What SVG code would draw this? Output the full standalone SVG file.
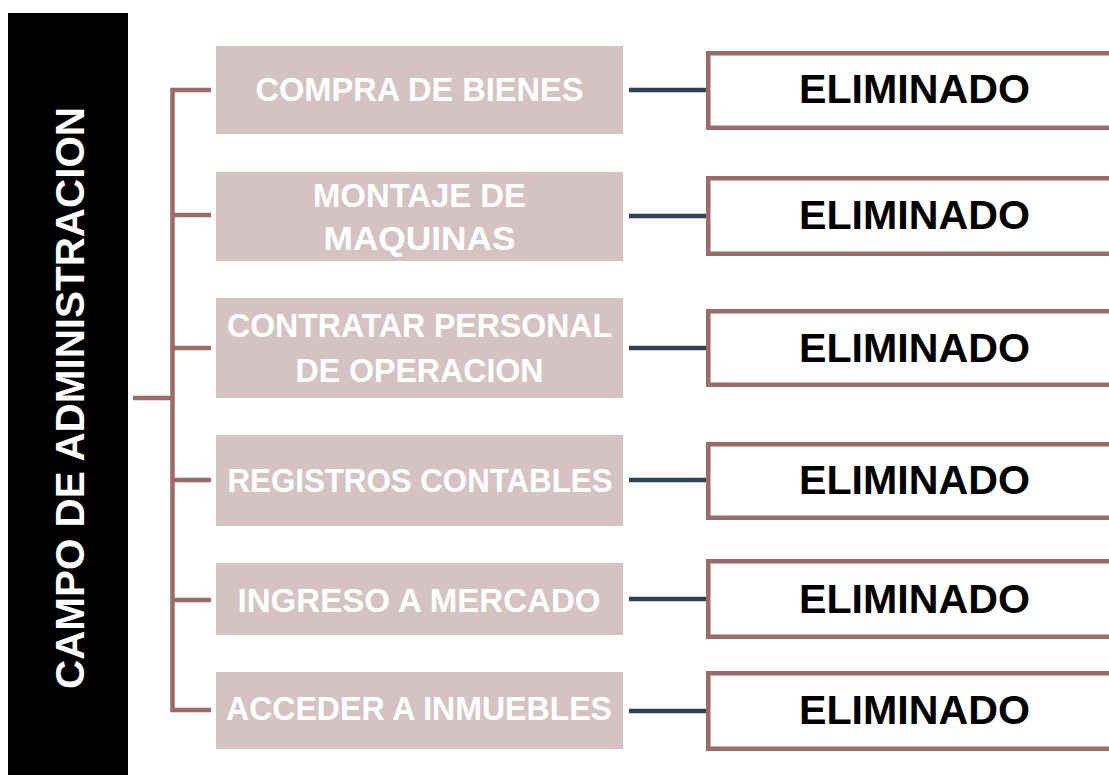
<svg xmlns="http://www.w3.org/2000/svg" width="1109" height="775" viewBox="0 0 1109 775">
<style>
.pk{fill:#d5c3c3}
.pt{font-family:"Liberation Sans",Arial,sans-serif;font-weight:bold;font-size:33px;fill:#ffffff;text-anchor:middle}
.el{fill:#ffffff;stroke:#9c6a67;stroke-width:4.5}
.et{font-family:"Liberation Sans",Arial,sans-serif;font-weight:bold;font-size:41.5px;fill:#000000;text-anchor:middle}
.br{fill:none;stroke:#9c6a67;stroke-width:4.5}
.dk{stroke:#2f4152;stroke-width:4.5}
</style>
<rect width="1109" height="775" fill="#ffffff"/>
<g id="root">
<rect x="8" y="13" width="120" height="765" fill="#000000"/>
<text transform="translate(84,398) rotate(-90)" font-family="Liberation Sans,Arial,sans-serif" font-weight="bold" font-size="41.5" fill="#ffffff" text-anchor="middle" textLength="582" lengthAdjust="spacingAndGlyphs">CAMPO DE ADMINISTRACION</text>
</g>
<g id="connectors">
<path class="br" d="M133 398H172.5M211 90H172.5V710H211M172.5 215H211M172.5 348H211M172.5 480H211M172.5 600H211"/>
<line class="dk" x1="629" y1="90" x2="706" y2="90"/>
<line class="dk" x1="629" y1="216" x2="706" y2="216"/>
<line class="dk" x1="629" y1="348" x2="706" y2="348"/>
<line class="dk" x1="629" y1="480" x2="706" y2="480"/>
<line class="dk" x1="629" y1="599" x2="706" y2="599"/>
<line class="dk" x1="629" y1="711" x2="706" y2="711"/>
</g>
<g id="n1"><rect class="pk" x="216" y="46" width="407" height="88"/><text class="pt" x="419.5" y="101" textLength="328" lengthAdjust="spacingAndGlyphs">COMPRA DE BIENES</text></g>
<g id="n2"><rect class="pk" x="216" y="172" width="407" height="89"/><text class="pt" x="419.5" y="207" textLength="213" lengthAdjust="spacingAndGlyphs">MONTAJE DE</text><text class="pt" x="419.5" y="250" textLength="192" lengthAdjust="spacingAndGlyphs">MAQUINAS</text></g>
<g id="n3"><rect class="pk" x="216" y="298" width="407" height="100"/><text class="pt" x="419.5" y="337" textLength="385" lengthAdjust="spacingAndGlyphs">CONTRATAR PERSONAL</text><text class="pt" x="419.5" y="382" textLength="248" lengthAdjust="spacingAndGlyphs">DE OPERACION</text></g>
<g id="n4"><rect class="pk" x="216" y="435" width="407" height="91"/><text class="pt" x="420" y="492" textLength="385" lengthAdjust="spacingAndGlyphs">REGISTROS CONTABLES</text></g>
<g id="n5"><rect class="pk" x="216" y="563" width="407" height="72"/><text class="pt" x="419" y="612" textLength="363" lengthAdjust="spacingAndGlyphs">INGRESO A MERCADO</text></g>
<g id="n6"><rect class="pk" x="216" y="672" width="407" height="77"/><text class="pt" x="419" y="720" textLength="386" lengthAdjust="spacingAndGlyphs">ACCEDER A INMUEBLES</text></g>
<g id="e1"><rect class="el" x="708.25" y="53.25" width="420" height="74.5"/><text class="et" x="914.5" y="103" textLength="231" lengthAdjust="spacingAndGlyphs">ELIMINADO</text></g>
<g id="e2"><rect class="el" x="708.25" y="178.25" width="420" height="75.5"/><text class="et" x="914.5" y="229" textLength="231" lengthAdjust="spacingAndGlyphs">ELIMINADO</text></g>
<g id="e3"><rect class="el" x="708.25" y="311.25" width="420" height="73.5"/><text class="et" x="914.5" y="362" textLength="231" lengthAdjust="spacingAndGlyphs">ELIMINADO</text></g>
<g id="e4"><rect class="el" x="708.25" y="444.25" width="420" height="73.5"/><text class="et" x="914.5" y="494" textLength="231" lengthAdjust="spacingAndGlyphs">ELIMINADO</text></g>
<g id="e5"><rect class="el" x="708.25" y="561.25" width="420" height="75.5"/><text class="et" x="914.5" y="613" textLength="231" lengthAdjust="spacingAndGlyphs">ELIMINADO</text></g>
<g id="e6"><rect class="el" x="708.25" y="673.25" width="420" height="75.5"/><text class="et" x="914.5" y="724" textLength="231" lengthAdjust="spacingAndGlyphs">ELIMINADO</text></g>
</svg>
